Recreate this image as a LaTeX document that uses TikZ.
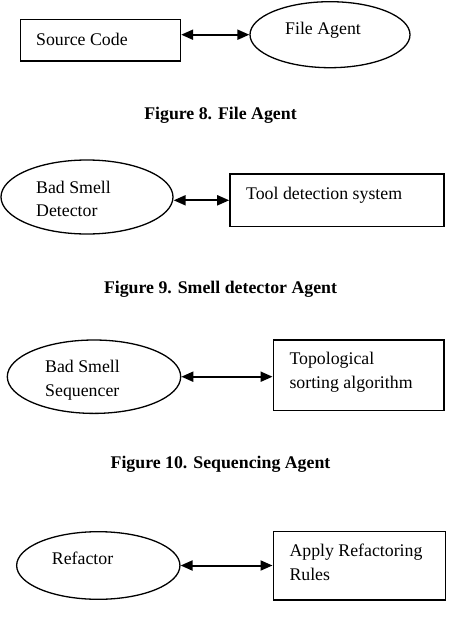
\documentclass[tikz,border=0pt]{standalone}
\usepackage{fontspec}
\setmainfont{Liberation Serif}
\usetikzlibrary{shapes.geometric,arrows.meta}

\begin{document}
\begin{tikzpicture}[x=1pt,y=-1pt,
  box/.style={draw,line width=1.6pt,inner sep=0pt},
  oval/.style={draw,ellipse,line width=1.3pt,inner sep=0pt},
  txt/.style={anchor=base west,inner sep=0pt,align=left,font=\fontsize{17.8}{23.4}\selectfont},
  figcap/.style={anchor=base,inner sep=0pt,font=\fontsize{17.8}{21}\selectfont\bfseries},
  link/.style={line width=2pt,{Triangle[length=12pt,width=10pt]}-{Triangle[length=12pt,width=10pt]}}]
  \useasboundingbox (0,0) rectangle (455,627);
  % figure 8
  \node[box,minimum width=159.7pt,minimum height=41.4pt] (src) at (100.5,40) {};
  \node[oval,minimum width=160pt,minimum height=66pt] (fa) at (330,34.7) {};
  \node[txt] (srct) at (36,45) {Source Code};
  \node[txt] (fat) at (285,34) {File Agent};
  \draw[link] (fa.west -| src.east) -- (fa.west);
  % figure 9
  \node[oval,minimum width=172pt,minimum height=74pt] (det) at (87,197) {};
  \node[box,minimum width=214pt,minimum height=52.7pt] (tool) at (337,200.3) {};
  \node[txt] (dett) at (36,216.7) {Bad Smell\\Detector};
  \node[txt] (toolt) at (246,199) {Tool detection system};
  \draw[link] (tool.west -| det.east) -- (tool.west);
  % figure 10
  \node[oval,minimum width=173.4pt,minimum height=73.4pt] (seq) at (94,376.7) {};
  \node[box,minimum width=170.7pt,minimum height=70.7pt] (topo) at (358.7,375.3) {};
  \node[txt] (seqt) at (45,396) {Bad Smell\\Sequencer};
  \node[txt] (topot) at (289.3,388.3) {Topological\\sorting algorithm};
  \draw[link] (seq.east) -- (seq.east -| topo.west);
  % figure 11
  \node[oval,minimum width=163.3pt,minimum height=67.6pt] (ref) at (98.3,565.5) {};
  \node[box,minimum width=172pt,minimum height=68.3pt] (rules) at (359.3,565.8) {};
  \node[txt] (reft) at (51.7,564) {Refactor};
  \node[txt] (rulest) at (289.3,580) {Apply Refactoring\\Rules};
  \draw[link] (ref.east) -- (ref.east -| rules.west);
  % captions
  \foreach \n/\y/\lab in {8/119/{File Agent},9/293/{Smell detector Agent},10/468/{Sequencing Agent}}
    \node[figcap] (cap\n) at (220.5,\y) {Figure \n. \lab};
\end{tikzpicture}
\end{document}
